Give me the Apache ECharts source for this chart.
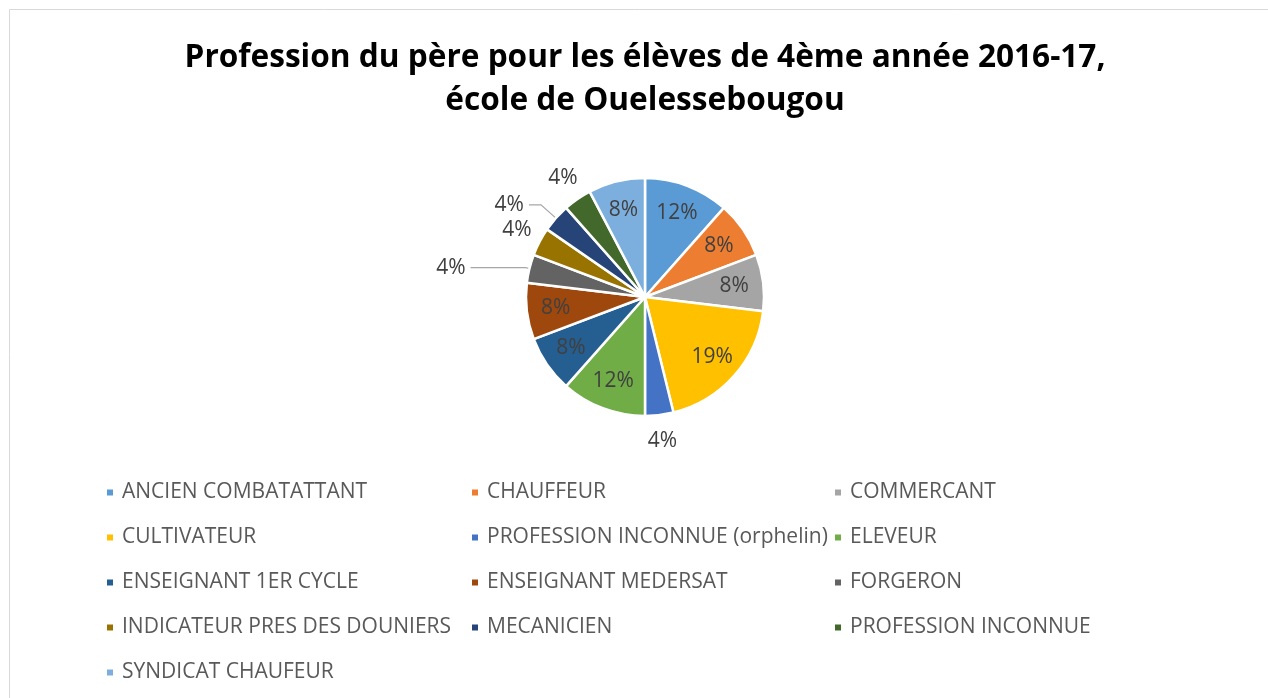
<!DOCTYPE html>
<html>
<head>
<meta charset="utf-8">
<script src="https://cdn.jsdelivr.net/npm/echarts@6/dist/echarts.min.js"></script>
<style>
  html, body { margin: 0; padding: 0; background: #fff; }
  #chart { width: 1268px; height: 698px; }
</style>
</head>
<body>
<div id="chart"></div>
<script>
// professions du père, nombre d'élèves (26 au total)
const categories = [
    'ANCIEN COMBATATTANT', 'CHAUFFEUR', 'COMMERCANT',
    'CULTIVATEUR', 'PROFESSION INCONNUE (orphelin)', 'ELEVEUR',
    'ENSEIGNANT 1ER CYCLE', 'ENSEIGNANT MEDERSAT', 'FORGERON',
    'INDICATEUR PRES DES DOUNIERS', 'MECANICIEN', 'PROFESSION INCONNUE',
    'SYNDICAT CHAUFEUR'
];
const counts = [3, 2, 2, 5, 1, 3, 2, 2, 1, 1, 1, 1, 2];
const colors = [
    '#5B9BD5', '#ED7D31', '#A5A5A5', '#FFC000', '#4472C4', '#70AD47',
    '#255E91', '#9E480E', '#636363', '#997300', '#264478', '#43682B', '#7CAFDD'
];
// where excel put each label: in the slice, floating outside, or outside with a leader line
const labelPlace = ['in', 'in', 'in', 'in', 'out', 'in', 'in', 'in', 'line', 'out', 'line', 'out', 'in'];
// leader line [radial, horizontal] lengths for the 'line' labels
const leader = { 8: [4, 55], 10: [20, 12] };

const chart = echarts.init(document.getElementById('chart'));
const font = '"Open Sans", sans-serif';
const center = [645, 297];
const R = 119;

const pct = (p) => Math.round(p.percent) + '%';
const labelStyle = { color: '#404040', fontSize: 21, fontFamily: font, formatter: pct };

// real slices; only the leader-line labels are drawn here
let mainData = categories.map((name, i) => {
    let d = {
        name: name,
        value: counts[i],
        itemStyle: { color: colors[i] },
        label: { show: labelPlace[i] == 'line' },
        labelLine: { show: labelPlace[i] == 'line' }
    };
    if (leader[i]) {
        d.labelLine.length = leader[i][0];
        d.labelLine.length2 = leader[i][1];
    }
    return d;
});

// invisible rings used only to carry labels at a given distance from centre
const ghost = (place, radius) => ({
    type: 'pie',
    center: center,
    radius: radius,
    startAngle: 90,
    silent: true,
    z: 3,
    itemStyle: { color: 'transparent', borderWidth: 0 },
    label: Object.assign({ position: 'inside' }, labelStyle),
    labelLine: { show: false },
    emphasis: { disabled: true },
    data: categories.map((name, i) => ({
        name: name,
        value: counts[i],
        label: { show: labelPlace[i] == place }
    }))
});

// three legend columns, read across the rows
let legends = [0, 1, 2].map((col) => ({
    orient: 'vertical',
    left: [100, 465, 828][col],
    top: 477,
    itemWidth: 8,
    itemHeight: 8,
    itemGap: 24,
    icon: 'rect',
    textStyle: { color: '#595959', fontSize: 21, fontFamily: font, padding: [0, 0, 0, 3] },
    data: categories.filter((c, i) => i % 3 == col)
}));

chart.setOption({
    animation: false,
    title: {
        text: 'Profession du père pour les élèves de 4ème année 2016-17,\nécole de Ouelessebougou',
        left: 640,
        textAlign: 'center',
        top: 31,
        textStyle: {
            color: '#000',
            fontSize: 31.6,
            fontWeight: 'bold',
            fontFamily: font,
            lineHeight: 43
        }
    },
    graphic: [{
        type: 'rect',
        shape: { x: 9.5, y: 9.5, width: 1280, height: 720 },
        style: { fill: 'none', stroke: '#d9d9d9', lineWidth: 1 },
        silent: true
    }],
    legend: legends,
    series: [{
        type: 'pie',
        center: center,
        radius: R,
        startAngle: 90,
        clockwise: true,
        avoidLabelOverlap: false,
        itemStyle: { borderColor: '#fff', borderWidth: 2.5 },
        label: Object.assign({ position: 'outside' }, labelStyle),
        labelLine: {
            length: 12,
            length2: 50,
            lineStyle: { color: '#a6a6a6', width: 1.2 }
        },
        data: mainData
    },
    ghost('in', [0, R * 1.46]),
    ghost('out', [0, R * 2.38])]
});
</script>
</body>
</html>
